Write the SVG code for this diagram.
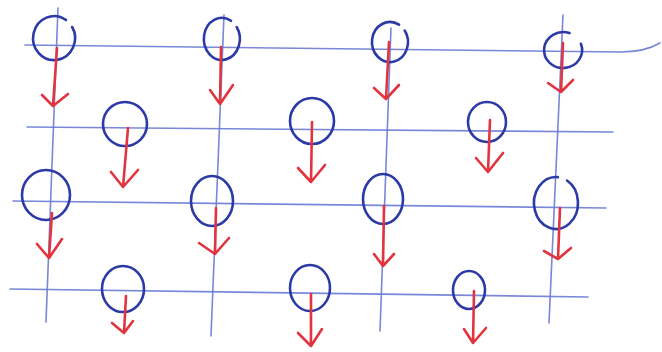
<svg xmlns="http://www.w3.org/2000/svg" width="662" height="352" viewBox="0 0 662 352">
<style>
.grid{fill:none;stroke:#6a7ad6;stroke-width:1.6;stroke-linecap:round;opacity:0.9}
.tree{fill:none;stroke:#2c3aa6;stroke-width:2.6;stroke-linecap:round}
.arr{fill:none;stroke:#e2343f;stroke-width:2.6;stroke-linecap:round;stroke-linejoin:round}
</style>
<rect width="662" height="352" fill="#ffffff"/>
<g id="grid">
<path class="grid" d="M25 45 L620 52 Q645 52 660 43"/>
<path class="grid" d="M27 127 L613 132"/>
<path class="grid" d="M13 201 L606 208"/>
<path class="grid" d="M10 289 L588 297"/>
<path class="grid" d="M58 8 L46 322"/>
<path class="grid" d="M224 15 L211 336"/>
<path class="grid" d="M391 28 L380 331"/>
<path class="grid" d="M563 15 L549 323"/>
</g>
<g id="t1"><path class="tree" d="M72.2 27 A21 22 0 1 1 66 20"/></g>
<g id="t2"><path class="tree" d="M236.7 27 A18 21 0 1 1 231 20.8"/></g>
<g id="t3"><path class="tree" d="M404.7 30.5 A18 20 0 1 1 399 24.7"/></g>
<g id="t4"><path class="tree" d="M580.9 43.8 A19 18 0 1 1 569.5 33.1"/></g>
<g id="t5"><ellipse class="tree" cx="125" cy="124" rx="22" ry="22"/></g>
<g id="t6"><ellipse class="tree" cx="312" cy="121" rx="22" ry="23"/></g>
<g id="t7"><ellipse class="tree" cx="487" cy="122" rx="19" ry="20"/></g>
<g id="t8"><ellipse class="tree" cx="46" cy="195" rx="24" ry="25"/></g>
<g id="t9"><ellipse class="tree" cx="212" cy="201" rx="21" ry="25"/></g>
<g id="t10"><ellipse class="tree" cx="383" cy="199" rx="20" ry="25"/></g>
<g id="t11"><path class="tree" d="M567 180.5 A22 26 0 1 1 557.9 177.1"/></g>
<g id="t12"><ellipse class="tree" cx="123" cy="289" rx="21" ry="23"/></g>
<g id="t13"><ellipse class="tree" cx="310" cy="288" rx="20" ry="23"/></g>
<g id="t14"><ellipse class="tree" cx="469" cy="290" rx="16" ry="19"/></g>
<g id="arrows">
<path class="arr" d="M57 48 L53 106 M42 95 L53 106 L68 94"/>
<path class="arr" d="M221 47 L220 104 M210 90 L220 104 L233 85"/>
<path class="arr" d="M389 42 L386 99 M374 88 L386 99 L399 85"/>
<path class="arr" d="M563 43 L561 92 M548 83 L561 92 L573 80"/>
<path class="arr" d="M128 128 L123 187 M111 172 L123 187 L138 170"/>
<path class="arr" d="M312 122 L311 182 M298 168 L311 182 L325 165"/>
<path class="arr" d="M490 120 L488 172 M476 158 L488 172 L503 153"/>
<path class="arr" d="M52 213 L49 258 M37 244 L49 258 L62 239"/>
<path class="arr" d="M216 208 L215 254 M199 243 L215 254 L229 238"/>
<path class="arr" d="M384 206 L383 266 M374 254 L383 266 L394 254"/>
<path class="arr" d="M560 208 L558 259 M544 251 L558 259 L571 248"/>
<path class="arr" d="M126 296 L124 333 M112 323 L124 333 L133 321"/>
<path class="arr" d="M311 294 L311 346 M298 333 L311 346 L322 329"/>
<path class="arr" d="M474 291 L473 343 M464 329 L473 343 L486 328"/>
</g>
</svg>
